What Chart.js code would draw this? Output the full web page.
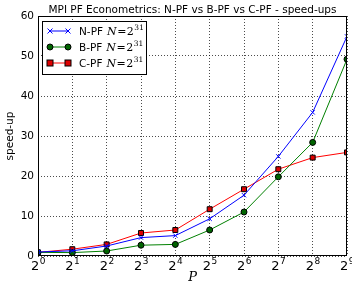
<!DOCTYPE html>
<html>
<head>
    <title>MPI PF Econometrics speed-ups</title>
    <script src="https://cdn.jsdelivr.net/npm/chart.js"></script>
    <style>
        body { margin: 0; background: #fff; }
    </style>
</head>
<body>
    <canvas id="speedupChart" width="352" height="287"></canvas>

    <script>
        // exponents of P = 2^k
        var exponents = [0, 1, 2, 3, 4, 5, 6, 7, 8, 9];
        var npf = [1.0, 1.3, 2.5, 4.6, 5.1, 9.3, 15.2, 24.9, 35.9, 54.9];
        var bpf = [0.9, 0.85, 1.25, 2.7, 2.9, 6.5, 11.0, 19.8, 28.4, 49.2];
        var cpf = [0.9, 1.7, 2.9, 5.75, 6.5, 11.7, 16.7, 21.7, 24.6, 25.9];
        var yTicks = [0, 10, 20, 30, 40, 50, 60];
        var titleText = 'MPI PF Econometrics: N-PF vs B-PF vs C-PF - speed-ups';

        function pts(vals) {
            return exponents.map(function (e, i) { return { x: e, y: vals[i] }; });
        }

        // draws the title, x tick labels (2^k), the plot frame and the legend box
        var decorations = {
            id: 'decorations',
            afterDraw: function (chart) {
                var ctx = chart.ctx;
                var area = chart.chartArea;
                var xs = chart.scales.x;
                ctx.save();

                // title, centred over the plot area
                ctx.fillStyle = '#000';
                ctx.textAlign = 'center';
                ctx.textBaseline = 'alphabetic';
                ctx.font = '10.5px "DejaVu Sans"';
                ctx.fillText(titleText, (area.left + area.right) / 2, 13);

                // frame
                ctx.strokeStyle = '#000';
                ctx.lineWidth = 1;
                ctx.strokeRect(Math.round(area.left) + 0.5, Math.round(area.top) + 0.5,
                    Math.round(area.right - area.left) - 1, Math.round(area.bottom - area.top) - 1);

                // x tick labels
                exponents.forEach(function (e) {
                    var px = xs.getPixelForValue(e);
                    ctx.font = '13px "DejaVu Sans"';
                    var w1 = ctx.measureText('2').width;
                    ctx.font = '9px "DejaVu Sans"';
                    var w2 = ctx.measureText(String(e)).width;
                    var x0 = px - (w1 + w2) / 2;
                    ctx.textAlign = 'left';
                    ctx.font = '13px "DejaVu Sans"';
                    ctx.fillText('2', x0, area.bottom + 14);
                    ctx.font = '9px "DejaVu Sans"';
                    ctx.fillText(String(e), x0 + w1 + 0.5, area.bottom + 8);
                });

                // legend
                var lx = 42.5, ly = 21.5, lw = 104, lh = 53;
                ctx.fillStyle = '#fff';
                ctx.fillRect(lx, ly, lw, lh);
                ctx.strokeStyle = '#000';
                ctx.strokeRect(lx, ly, lw, lh);

                var entries = [
                    { name: 'N-PF', color: '#0000ff', marker: 'x', y: 31 },
                    { name: 'B-PF', color: '#008000', marker: 'o', y: 47 },
                    { name: 'C-PF', color: '#ff0000', marker: 's', y: 63 }
                ];
                entries.forEach(function (en) {
                    ctx.strokeStyle = en.color;
                    ctx.lineWidth = 1;
                    ctx.beginPath();
                    ctx.moveTo(50, en.y);
                    ctx.lineTo(68, en.y);
                    ctx.stroke();
                    [50, 68].forEach(function (mx) {
                        if (en.marker === 'x') {
                            ctx.strokeStyle = en.color;
                            ctx.beginPath();
                            ctx.moveTo(mx - 2.5, en.y - 2.5); ctx.lineTo(mx + 2.5, en.y + 2.5);
                            ctx.moveTo(mx - 2.5, en.y + 2.5); ctx.lineTo(mx + 2.5, en.y - 2.5);
                            ctx.stroke();
                        } else if (en.marker === 'o') {
                            ctx.fillStyle = '#006400';
                            ctx.strokeStyle = '#000';
                            ctx.beginPath();
                            ctx.arc(mx, en.y, 3, 0, Math.PI * 2);
                            ctx.fill(); ctx.stroke();
                        } else {
                            ctx.fillStyle = '#dd0000';
                            ctx.strokeStyle = '#000';
                            ctx.fillRect(mx - 3, en.y - 3, 6, 6);
                            ctx.strokeRect(mx - 3, en.y - 3, 6, 6);
                        }
                    });
                    ctx.fillStyle = '#000';
                    ctx.textAlign = 'left';
                    ctx.textBaseline = 'alphabetic';
                    var base = en.y + 4;
                    ctx.font = '10.5px "DejaVu Sans"';
                    var tx = 79;
                    ctx.fillText(en.name, tx, base);
                    tx += ctx.measureText(en.name).width + 4;
                    ctx.font = 'italic 11px "DejaVu Serif"';
                    ctx.fillText('N', tx, base);
                    tx += ctx.measureText('N').width + 0.5;
                    ctx.font = '11px "DejaVu Serif"';
                    ctx.fillText('=', tx, base);
                    tx += ctx.measureText('=').width + 0.5;
                    ctx.fillText('2', tx, base);
                    tx += ctx.measureText('2').width + 0.5;
                    ctx.font = '7.5px "DejaVu Serif"';
                    ctx.fillText('31', tx, base - 5);
                });
                ctx.restore();
            }
        };

        var ctx = document.getElementById('speedupChart').getContext('2d');
        new Chart(ctx, {
            type: 'line',
            data: {
                datasets: [
                    {
                        label: 'N-PF',
                        data: pts(npf),
                        borderColor: '#0000ff',
                        backgroundColor: '#0000ff',
                        borderWidth: 1,
                        pointStyle: 'crossRot',
                        pointRadius: 3,
                        pointBorderColor: '#0000ff',
                        pointBorderWidth: 1
                    },
                    {
                        label: 'B-PF',
                        data: pts(bpf),
                        borderColor: '#008000',
                        backgroundColor: '#006400',
                        borderWidth: 1,
                        pointStyle: 'circle',
                        pointRadius: 3,
                        pointBorderColor: '#000',
                        pointBackgroundColor: '#006400',
                        pointBorderWidth: 1
                    },
                    {
                        label: 'C-PF',
                        data: pts(cpf),
                        borderColor: '#ff0000',
                        backgroundColor: '#dd0000',
                        borderWidth: 1,
                        pointStyle: 'rect',
                        pointRadius: 3.5,
                        pointBorderColor: '#000',
                        pointBackgroundColor: '#dd0000',
                        pointBorderWidth: 1
                    }
                ]
            },
            options: {
                responsive: false,
                animation: false,
                layout: { padding: { left: 0, right: 4, top: 16, bottom: 0 } },
                plugins: {
                    legend: { display: false },
                    tooltip: { enabled: false },
                    title: { display: false }
                },
                scales: {
                    x: {
                        type: 'linear',
                        min: 0,
                        max: 9,
                        afterFit: function (s) { s.height = 31; },
                        ticks: { display: false, stepSize: 1 },
                        grid: { color: 'rgba(0,0,0,0.7)', lineWidth: 1, drawTicks: false },
                        border: { display: false, dash: [1, 2] },
                        title: {
                            display: true,
                            text: 'P',
                            color: '#000',
                            font: { family: 'DejaVu Serif', style: 'italic', size: 13 },
                            padding: { top: 0, bottom: 2 }
                        }
                    },
                    y: {
                        min: 0,
                        max: 60,
                        afterFit: function (s) { s.width = 38; },
                        afterBuildTicks: function (s) { s.ticks = yTicks.map(function (v) { return { value: v }; }); },
                        ticks: { color: '#000', font: { family: 'DejaVu Sans', size: 10.5 }, padding: 4 },
                        grid: { color: 'rgba(0,0,0,0.7)', lineWidth: 1, drawTicks: false },
                        border: { display: false, dash: [1, 2] },
                        title: {
                            display: true,
                            text: 'speed-up',
                            color: '#000',
                            font: { family: 'DejaVu Sans', size: 10.5 },
                            padding: { top: 4, bottom: 0 }
                        }
                    }
                }
            },
            plugins: [decorations]
        });
    </script>
</body>
</html>
